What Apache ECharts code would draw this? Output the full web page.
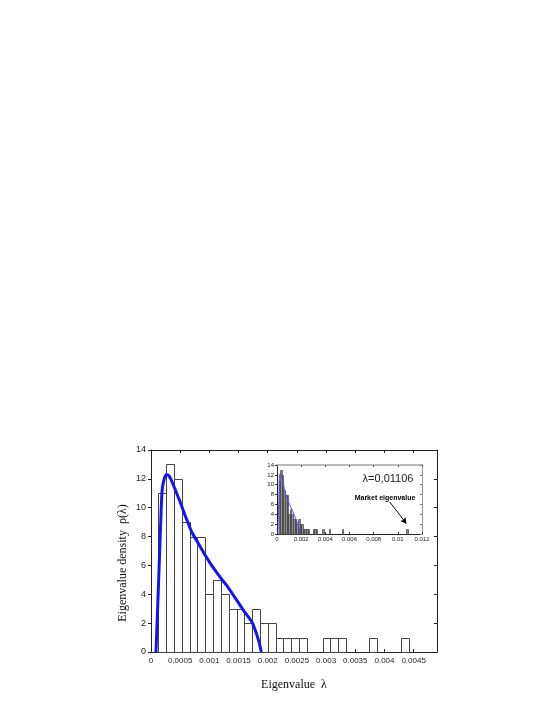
<!DOCTYPE html>
<html>
<head>
<meta charset="utf-8">
<script src="https://cdn.jsdelivr.net/npm/echarts@6/dist/echarts.min.js"></script>
<style>
  html, body { margin: 0; padding: 0; background: #fff; }
  #chart { width: 545px; height: 705px; }
</style>
</head>
<body>
<div id="chart"></div>
<script>
// histogram of eigenvalues (left edge of each non-empty bin, count)
var binWidth = 0.000134;
var binLeft = [0.000125, 0.000259, 0.000393, 0.000527, 0.000661, 0.000795, 0.000929, 0.001063,
               0.001197, 0.001331, 0.001465, 0.001599, 0.001733, 0.001867, 0.002001, 0.002135,
               0.002269, 0.002403, 0.002537, 0.002939, 0.003073, 0.003207, 0.003743, 0.004279];
var counts  = [11, 13, 12, 9, 8, 8, 4, 5,
               4, 3, 3, 2, 3, 2, 2, 1,
               1, 1, 1, 1, 1, 1, 1, 1];
// extra bins only visible in the inset (large eigenvalues)
var extraLeft   = [0.005351, 0.010711];
var extraCounts = [1, 1];

// fitted density curve
var curveX = [0.000085, 0.00011, 0.00014, 0.00017, 0.00019, 0.00022, 0.00026, 0.00031, 0.00036,
              0.00042, 0.0005, 0.0006, 0.0007, 0.0008, 0.0009, 0.001, 0.0011, 0.0012, 0.0013,
              0.0014, 0.0015, 0.0016, 0.0017, 0.00175, 0.0018, 0.00185, 0.00189];
var curveY = [0, 2.6, 6.0, 9.4, 11.2, 11.9, 12.3, 12.2, 11.8,
              11.2, 10.4, 9.3, 8.3, 7.6, 6.9, 6.25, 5.65, 5.1, 4.6,
              4.0, 3.4, 2.8, 2.25, 1.9, 1.35, 0.7, 0];

// market eigenvalue arrow (inset data coords)
var arrowFrom = [0.00933, 6.5];
var arrowTo   = [0.01071, 2.1];

var sans = 'Liberation Sans, Arial, sans-serif';
var serif = 'Liberation Serif, Times New Roman, serif';

function zip(a, b) {
    var out = [];
    for (var i = 0; i < a.length; i++) out.push([a[i], b[i]]);
    return out;
}

function barRenderer(fill, stroke, lw) {
    return function (params, api) {
        var x0 = api.value(0), h = api.value(1);
        var p0 = api.coord([x0, 0]);
        var p1 = api.coord([x0 + binWidth, h]);
        var left = Math.round(p0[0]) + 0.5, right = Math.round(p1[0]) + 0.5;
        var top = Math.round(p1[1]) + 0.5, bottom = Math.round(p0[1]) + 0.5;
        return {
            type: 'rect',
            shape: { x: left, y: top, width: right - left, height: bottom - top },
            style: { fill: fill, stroke: stroke, lineWidth: lw }
        };
    };
}

var mainBars = zip(binLeft, counts);
var insetBars = mainBars.concat(zip(extraLeft, extraCounts));
var curve = zip(curveX, curveY);

function axisBase(extra) {
    var o = {
        type: 'value',
        axisLine: { show: true, onZero: false, lineStyle: { color: '#222', width: 1 } },
        splitLine: { show: false },
        axisTick: { show: true, inside: true, length: 3, lineStyle: { color: '#222' } },
        axisLabel: { show: false }
    };
    for (var k in extra) o[k] = extra[k];
    return o;
}

var chart = echarts.init(document.getElementById('chart'));
var option = {
    backgroundColor: '#fff',
    animation: false,
    grid: [
        { left: 151, top: 450, width: 286, height: 202 },
        { left: 277, top: 465, width: 145, height: 69, show: true, backgroundColor: '#fff', borderWidth: 0 }
    ],
    xAxis: [
        axisBase({ gridIndex: 0, min: 0, max: 0.0049, interval: 0.0005, position: 'bottom',
            axisLabel: { show: true, fontSize: 8, color: '#222', fontFamily: sans, margin: 5 },
            name: 'Eigenvalue  \u03bb', nameLocation: 'middle', nameGap: 27,
            nameTextStyle: { fontFamily: serif, fontSize: 12, color: '#111' } }),
        axisBase({ gridIndex: 0, min: 0, max: 0.0049, interval: 0.0005, position: 'top' }),
        axisBase({ gridIndex: 1, min: 0, max: 0.012, interval: 0.002, position: 'bottom',
            axisTick: { show: true, inside: true, length: 2, lineStyle: { color: '#333' } },
            axisLabel: { show: true, fontSize: 6, color: '#222', fontFamily: sans, margin: 2 } }),
        axisBase({ gridIndex: 1, min: 0, max: 0.012, interval: 0.002, position: 'top',
            axisLine: { show: true, onZero: false, lineStyle: { color: '#bbb', width: 2 } },
            axisTick: { show: true, inside: true, length: 2, lineStyle: { color: '#555' } } })
    ],
    yAxis: [
        axisBase({ gridIndex: 0, min: 0, max: 14, interval: 2, position: 'left',
            axisTick: { show: true, inside: false, length: 3, lineStyle: { color: '#222' } },
            axisLabel: { show: true, fontSize: 9, color: '#222', fontFamily: sans, margin: 5 } }),
        axisBase({ gridIndex: 0, min: 0, max: 14, interval: 2, position: 'right' }),
        axisBase({ gridIndex: 1, min: 0, max: 14, interval: 2, position: 'left',
            axisTick: { show: true, inside: false, length: 2, lineStyle: { color: '#333' } },
            axisLabel: { show: true, fontSize: 6, color: '#222', fontFamily: sans, margin: 3 } }),
        axisBase({ gridIndex: 1, min: 0, max: 14, interval: 2, position: 'right',
            axisLine: { show: true, onZero: false, lineStyle: { color: '#999', width: 1 } },
            axisTick: { show: true, inside: true, length: 2, lineStyle: { color: '#777' } } })
    ],
    series: [
        {
            type: 'custom', xAxisIndex: 0, yAxisIndex: 0,
            renderItem: barRenderer('#fff', '#444', 1),
            data: mainBars, z: 2
        },
        {
            type: 'line', xAxisIndex: 0, yAxisIndex: 0,
            data: curve, smooth: 0.2, showSymbol: false,
            lineStyle: { color: '#1414f0', width: 3 }, z: 3
        },
        {
            type: 'custom', xAxisIndex: 2, yAxisIndex: 2,
            renderItem: barRenderer('#8c8c8c', '#333', 0.6),
            data: insetBars, z: 4
        },
        {
            type: 'line', xAxisIndex: 2, yAxisIndex: 2,
            data: curve, smooth: 0.2, showSymbol: false,
            lineStyle: { color: '#4a4af5', width: 1 }, z: 5,
            markLine: {
                silent: true, symbol: ['none', 'arrow'], symbolSize: [5, 6],
                label: { show: false },
                lineStyle: { color: '#000', width: 1, type: 'solid' },
                data: [[{ coord: arrowFrom }, { coord: arrowTo }]]
            }
        }
    ],
    graphic: [
        {
            type: 'text', x: 123, y: 563, rotation: Math.PI / 2, z: 10,
            style: { text: 'Eigenvalue density  \u03c1(\u03bb)', font: '12px ' + serif, fill: '#111',
                     textAlign: 'center', textVerticalAlign: 'middle' }
        },
        {
            type: 'text', x: 388, y: 479, z: 10,
            style: { text: '\u03bb=0,01106', font: '11px ' + sans, fill: '#222',
                     textAlign: 'center', textVerticalAlign: 'middle' }
        },
        {
            type: 'text', x: 385, y: 498, z: 10,
            style: { text: 'Market eigenvalue', font: 'bold 7px ' + sans, fill: '#000',
                     textAlign: 'center', textVerticalAlign: 'middle' }
        }
    ]
};
chart.setOption(option);
</script>
</body>
</html>
